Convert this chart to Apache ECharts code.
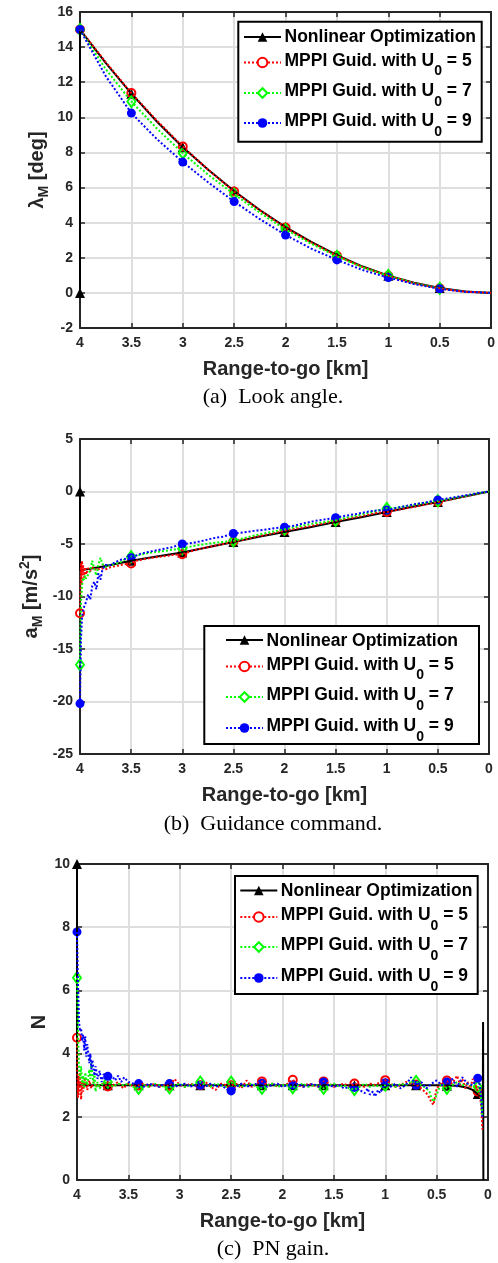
<!DOCTYPE html>
<html>
<head>
<meta charset="utf-8">
<script src="https://cdn.jsdelivr.net/npm/echarts@6/dist/echarts.min.js"></script>
<style>
html,body{margin:0;padding:0;background:#fff;}
#chart{width:498px;height:1263px;}
</style>
</head>
<body>
<div id="chart"></div>
<script>
// ---------- data ----------
const seriesNames = ['Nonlinear Optimization', 'MPPI Guid. with U0 = 5', 'MPPI Guid. with U0 = 7', 'MPPI Guid. with U0 = 9'];
const xTickValues = [4, 3.5, 3, 2.5, 2, 1.5, 1, 0.5, 0];
const captions = ['(a)  Look angle.', '(b)  Guidance command.', '(c)  PN gain.'];

// (a) Look angle [deg] vs range-to-go [km]
const aNonlin = [[4,0],[4,15],[3.75,13.1],[3.5,11.35],[3.25,9.75],[3,8.3],[2.75,7.0],[2.5,5.8],[2.25,4.72],[2,3.75],[1.75,2.9],[1.5,2.15],[1.25,1.5],[1,0.98],[0.75,0.58],[0.5,0.28],[0.25,0.08],[0,0]];
const aU5 = [[4,15],[3.75,13.15],[3.5,11.38],[3.25,9.8],[3,8.34],[2.75,7.0],[2.5,5.77],[2.25,4.7],[2,3.72],[1.75,2.88],[1.5,2.12],[1.25,1.47],[1,0.97],[0.75,0.55],[0.5,0.26],[0.25,0.07],[0,0]];
const aU7 = [[4,15],[3.75,12.75],[3.5,10.9],[3.25,9.35],[3,7.96],[2.75,6.72],[2.5,5.62],[2.25,4.57],[2,3.6],[1.75,2.8],[1.5,2.08],[1.25,1.45],[1,0.97],[0.75,0.55],[0.5,0.26],[0.25,0.07],[0,0]];
const aU9 = [[4,15],[3.75,12.35],[3.5,10.24],[3.25,8.75],[3,7.45],[2.75,6.28],[2.5,5.2],[2.25,4.2],[2,3.3],[1.75,2.52],[1.5,1.88],[1.25,1.3],[1,0.87],[0.75,0.5],[0.5,0.23],[0.25,0.06],[0,0]];
const aNonlinMk = [[4,0],[3.5,11.35],[3,8.3],[2.5,5.8],[2,3.75],[1.5,2.15],[1,0.98],[0.5,0.28]];
const aU5Mk = [[4,15],[3.5,11.38],[3,8.34],[2.5,5.77],[2,3.72],[1.5,2.12],[1,0.97],[0.5,0.26]];
const aU7Mk = [[4,15],[3.5,10.9],[3,7.96],[2.5,5.62],[2,3.6],[1.5,2.08],[1,1.0],[0.5,0.26]];
const aU9Mk = [[4,15],[3.5,10.24],[3,7.45],[2.5,5.2],[2,3.3],[1.5,1.88],[1,0.87],[0.5,0.23]];

// (b) Guidance command [m/s^2]
const bNonlin = [[4,0],[4,-7.5],[3.9,-7.35],[3.75,-7.1],[3.5,-6.6],[3.25,-6.2],[3,-5.8],[2.75,-5.3],[2.5,-4.8],[2.25,-4.3],[2,-3.85],[1.75,-3.4],[1.5,-2.9],[1.25,-2.45],[1,-1.95],[0.75,-1.45],[0.5,-1.0],[0.25,-0.5],[0,0]];
const bU5 = [[4,-11.6],[3.995,-9.5],[3.99,-6.8],[3.985,-8.8],[3.98,-6.6],[3.975,-8.0],[3.97,-7.0],[3.96,-8.2],[3.95,-7.2],[3.94,-7.9],[3.92,-7.3],[3.9,-7.6],[3.87,-7.2],[3.84,-7.5],[3.8,-7.3],[3.75,-7.4],[3.7,-7.2],[3.65,-7.1],[3.6,-7.0],[3.55,-6.9],[3.5,-6.85],[3.45,-6.6],[3.4,-6.5],[3.3,-6.3],[3.2,-6.2],[3.1,-6.05],[3,-5.97],[2.9,-5.65],[2.8,-5.4],[2.7,-5.2],[2.6,-5.0],[2.5,-4.77],[2.4,-4.6],[2.3,-4.35],[2.2,-4.15],[2.1,-3.95],[2,-3.72],[1.9,-3.55],[1.75,-3.3],[1.6,-3.0],[1.5,-2.8],[1.4,-2.6],[1.25,-2.35],[1.1,-2.05],[1,-1.95],[0.9,-1.75],[0.75,-1.5],[0.6,-1.2],[0.5,-1.0],[0.4,-0.8],[0.25,-0.5],[0.1,-0.2],[0,0]];
const bU7 = [[4,-16.5],[3.995,-13],[3.99,-10.5],[3.98,-9.0],[3.97,-8.2],[3.96,-8.4],[3.95,-8.0],[3.94,-8.3],[3.92,-7.9],[3.9,-7.5],[3.88,-6.6],[3.86,-7.4],[3.84,-8.0],[3.82,-7.0],[3.8,-6.3],[3.78,-6.9],[3.75,-7.2],[3.7,-7.0],[3.65,-6.9],[3.6,-6.7],[3.55,-6.4],[3.5,-6.2],[3.4,-6.0],[3.3,-5.8],[3.2,-5.7],[3.1,-5.55],[3,-5.45],[2.9,-5.2],[2.8,-5.05],[2.7,-4.9],[2.6,-4.8],[2.5,-4.7],[2.4,-4.45],[2.3,-4.2],[2.2,-4.0],[2.1,-3.8],[2,-3.6],[1.9,-3.4],[1.75,-3.1],[1.6,-2.9],[1.5,-2.75],[1.4,-2.5],[1.25,-2.2],[1.1,-1.85],[1,-1.6],[0.9,-1.55],[0.75,-1.3],[0.6,-1.05],[0.5,-0.88],[0.4,-0.72],[0.25,-0.45],[0.1,-0.18],[0,0]];
const bU9 = [[4,-20.2],[3.995,-17],[3.99,-14],[3.98,-12],[3.97,-11.4],[3.96,-11],[3.94,-10.5],[3.92,-9.8],[3.9,-10.3],[3.88,-9.0],[3.86,-8.6],[3.84,-9.3],[3.82,-7.8],[3.8,-8.4],[3.78,-7.4],[3.75,-7.0],[3.7,-7.0],[3.65,-6.7],[3.6,-6.5],[3.5,-6.3],[3.4,-5.9],[3.3,-5.7],[3.2,-5.5],[3.1,-5.3],[3,-5.0],[2.9,-4.9],[2.8,-4.7],[2.7,-4.45],[2.6,-4.3],[2.5,-4.0],[2.4,-3.9],[2.3,-3.75],[2.2,-3.65],[2.1,-3.5],[2,-3.4],[1.9,-3.25],[1.8,-3.0],[1.7,-2.8],[1.6,-2.65],[1.5,-2.5],[1.4,-2.3],[1.3,-2.15],[1.2,-1.95],[1.1,-1.8],[1,-1.76],[0.9,-1.55],[0.75,-1.25],[0.6,-1.0],[0.5,-0.8],[0.4,-0.65],[0.25,-0.4],[0.1,-0.15],[0,0]];
const bNonlinMk = [[4,0],[3.5,-6.6],[3,-5.8],[2.5,-4.8],[2,-3.85],[1.5,-2.9],[1,-1.95],[0.5,-1.0]];
const bU5Mk = [[4,-11.6],[3.5,-6.85],[3,-5.97],[2.5,-4.77],[2,-3.72],[1.5,-2.8],[1,-1.95],[0.5,-1.0]];
const bU7Mk = [[4,-16.5],[3.5,-6.2],[3,-5.45],[2.5,-4.7],[2,-3.6],[1.5,-2.75],[1,-1.6],[0.5,-0.88]];
const bU9Mk = [[4,-20.2],[3.5,-6.3],[3,-5.0],[2.5,-4.0],[2,-3.4],[1.5,-2.5],[1,-1.76],[0.5,-0.8]];

// (c) PN gain N
const cNonlin = [[4,10],[4,3.0],[3.5,3.0],[3,3.0],[2.5,3.0],[2,3.0],[1.5,3.0],[1,3.0],[0.5,3.0],[0.3,2.98],[0.2,2.92],[0.15,2.85],[0.1,2.72],[0.07,2.65],[0.05,2.6],[0.048,5.0],[0.045,0]];
const cU5 = [[4,4.5],[3.995,3.2],[3.99,2.6],[3.985,3.3],[3.98,2.7],[3.97,3.4],[3.96,2.55],[3.95,3.1],[3.94,2.8],[3.92,3.25],[3.9,2.85],[3.88,3.15],[3.86,2.9],[3.84,3.1],[3.8,2.95],[3.75,3.05],[3.7,2.96],[3.65,3.0],[3.6,3.1],[3.55,2.9],[3.5,3.05],[3.45,2.95],[3.4,3.0],[3.35,3.05],[3.3,2.95],[3.25,3.05],[3.2,2.95],[3.15,3.0],[3.1,2.98],[3.05,3.2],[3.0,3.0],[2.95,2.95],[2.9,3.05],[2.85,3.0],[2.8,3.0],[2.75,3.1],[2.7,2.95],[2.65,2.85],[2.6,3.05],[2.55,3.0],[2.5,3.0],[2.45,3.05],[2.4,2.9],[2.35,3.15],[2.3,2.95],[2.25,3.05],[2.2,3.12],[2.15,3.0],[2.1,3.05],[2.05,2.95],[2.0,3.0],[1.95,3.05],[1.9,3.17],[1.85,3.0],[1.8,2.95],[1.75,3.05],[1.7,3.0],[1.65,2.95],[1.6,3.12],[1.55,3.05],[1.5,2.95],[1.45,3.0],[1.4,3.05],[1.35,2.95],[1.3,3.05],[1.25,3.0],[1.2,2.95],[1.15,3.05],[1.1,3.0],[1.05,3.1],[1.0,3.16],[0.95,3.05],[0.9,2.95],[0.85,3.0],[0.8,3.1],[0.75,3.05],[0.7,3.02],[0.65,2.9],[0.6,2.75],[0.57,2.6],[0.55,2.45],[0.53,2.38],[0.5,2.9],[0.47,3.0],[0.45,3.1],[0.42,2.95],[0.4,3.15],[0.35,3.05],[0.3,3.3],[0.27,3.0],[0.25,3.2],[0.22,2.9],[0.2,3.1],[0.17,2.9],[0.15,3.2],[0.12,3.0],[0.1,2.8],[0.08,2.7],[0.065,2.3],[0.055,1.6]];
const cU7 = [[4,6.4],[3.995,5.5],[3.99,4.6],[3.985,4.0],[3.98,3.5],[3.97,3.2],[3.96,3.6],[3.95,3.0],[3.94,3.3],[3.93,2.9],[3.92,3.4],[3.9,3.0],[3.88,3.5],[3.87,3.2],[3.86,3.7],[3.85,3.3],[3.84,3.05],[3.83,3.4],[3.82,2.8],[3.8,3.1],[3.78,2.9],[3.75,3.05],[3.7,3.1],[3.65,2.95],[3.6,3.05],[3.55,3.0],[3.5,3.05],[3.45,2.95],[3.4,2.9],[3.35,3.0],[3.3,2.95],[3.25,3.05],[3.2,3.0],[3.15,2.95],[3.1,2.92],[3.05,3.0],[3.0,3.05],[2.95,2.95],[2.9,3.0],[2.85,3.05],[2.8,3.1],[2.75,3.0],[2.7,2.95],[2.65,3.05],[2.6,3.0],[2.55,2.95],[2.5,3.1],[2.45,3.0],[2.4,2.95],[2.35,3.0],[2.3,3.05],[2.25,2.95],[2.2,2.9],[2.15,3.0],[2.1,3.05],[2.05,2.95],[2.0,3.0],[1.95,3.0],[1.9,2.92],[1.85,3.0],[1.8,3.05],[1.75,2.95],[1.7,3.0],[1.65,3.0],[1.6,2.9],[1.55,3.0],[1.5,3.05],[1.45,2.95],[1.4,3.0],[1.35,2.9],[1.3,2.86],[1.25,2.95],[1.2,3.05],[1.15,2.95],[1.1,3.0],[1.05,2.95],[1.0,3.0],[0.95,3.05],[0.9,2.95],[0.85,3.05],[0.8,3.0],[0.75,3.1],[0.7,3.12],[0.65,3.0],[0.6,2.9],[0.57,2.8],[0.55,2.6],[0.53,2.48],[0.5,2.7],[0.47,2.95],[0.45,3.05],[0.4,2.9],[0.35,3.0],[0.3,3.1],[0.25,3.0],[0.2,3.05],[0.15,2.95],[0.1,2.95],[0.08,2.9],[0.065,2.5],[0.055,2.0]];
const cU9 = [[4,7.85],[3.995,6.9],[3.99,6.2],[3.985,5.6],[3.98,5.0],[3.97,4.7],[3.96,4.8],[3.95,4.4],[3.94,4.6],[3.93,4.1],[3.92,4.55],[3.91,3.9],[3.9,4.3],[3.88,3.7],[3.87,4.0],[3.86,3.5],[3.85,3.8],[3.83,3.3],[3.82,3.6],[3.8,3.2],[3.78,3.45],[3.76,3.1],[3.74,3.35],[3.7,3.28],[3.66,3.3],[3.63,3.15],[3.6,3.3],[3.57,3.1],[3.54,3.25],[3.5,3.1],[3.45,3.05],[3.4,3.05],[3.35,2.95],[3.3,3.05],[3.25,3.0],[3.2,2.95],[3.15,3.05],[3.1,3.05],[3.05,2.95],[3.0,3.0],[2.95,3.05],[2.9,2.95],[2.85,3.0],[2.8,3.0],[2.75,2.95],[2.7,3.05],[2.65,2.95],[2.6,3.0],[2.55,2.9],[2.5,2.82],[2.45,2.95],[2.4,3.05],[2.35,2.95],[2.3,3.0],[2.25,3.05],[2.2,3.06],[2.15,2.95],[2.1,3.0],[2.05,3.05],[2.0,2.95],[1.95,3.0],[1.9,3.01],[1.85,3.05],[1.8,2.95],[1.75,3.0],[1.7,3.05],[1.65,2.95],[1.6,3.1],[1.55,3.0],[1.5,2.95],[1.45,3.0],[1.4,2.9],[1.35,2.95],[1.3,2.93],[1.25,2.85],[1.2,2.75],[1.17,2.9],[1.15,2.7],[1.12,2.8],[1.1,2.64],[1.07,2.85],[1.05,2.75],[1.0,3.08],[0.95,2.95],[0.9,3.05],[0.85,2.9],[0.8,3.0],[0.75,3.25],[0.7,3.0],[0.65,3.1],[0.6,2.9],[0.55,3.05],[0.5,3.15],[0.45,3.0],[0.4,3.1],[0.35,3.2],[0.3,2.95],[0.25,3.25],[0.2,3.05],[0.15,3.0],[0.1,3.22],[0.08,3.0],[0.065,2.6],[0.055,2.0]];
const cNonlinMk = [[4,10],[3.7,3],[3.4,3],[3.1,3],[2.8,3],[2.5,3],[2.2,3],[1.9,3],[1.6,3],[1.3,3],[1,3],[0.7,3],[0.4,2.98],[0.1,2.72]];
const cU5Mk = [[4,4.5],[3.7,2.96],[3.4,3.0],[3.1,2.98],[2.8,3.0],[2.5,3.0],[2.2,3.12],[1.9,3.17],[1.6,3.12],[1.3,3.05],[1,3.16],[0.7,3.02],[0.4,3.15],[0.1,2.8]];
const cU7Mk = [[4,6.4],[3.7,3.1],[3.4,2.9],[3.1,2.92],[2.8,3.1],[2.5,3.1],[2.2,2.9],[1.9,2.92],[1.6,2.9],[1.3,2.86],[1,3.0],[0.7,3.12],[0.4,2.9],[0.1,2.95]];
const cU9Mk = [[4,7.85],[3.7,3.28],[3.4,3.05],[3.1,3.05],[2.8,3.0],[2.5,2.82],[2.2,3.06],[1.9,3.01],[1.6,3.1],[1.3,2.93],[1,3.08],[0.7,3.0],[0.4,3.1],[0.1,3.22]];

// ---------- styling / layout ----------
const FONT = '"Liberation Sans", Arial, sans-serif';
const SERIF = '"Liberation Serif", "Times New Roman", serif';
const AX = '#262626';
const colors = ['#000000', '#ff0000', '#00ff00', '#0000ff'];

const grids = [
  {left: 80, top: 12, width: 412, height: 316},
  {left: 80, top: 439, width: 409, height: 315},
  {left: 77, top: 864, width: 411, height: 316}
];
const yRanges = [[-2, 16, 2], [-25, 5, 5], [0, 10, 2]];
const yNames = ['{t|λ}{s|M}{t| [deg]}', '{t|a}{s|M}{t| [m/s}{p|2}{t|]}', '{t|N}'];
const yNameGaps = [29, 35, 28];
// legend frame boxes [x, y, w, h] and row layout
const legendBoxes = [[238.3, 21.7, 243.4, 120], [204.3, 626, 274.7, 118], [235, 876, 242.7, 118]];
const legendLefts = [243, 225, 239.3];
const legendMainY = [[37, 61, 91.5, 121.5], [641, 665, 695.5, 726.5], [891, 915.5, 945.5, 976.5]];
const legendIconY = [[36.5, 62, 92.5, 122.5], [639.5, 666, 696.5, 727.5], [890, 916.5, 946.5, 977.5]];
const SUB_DY = 10.5;
const captionPos = [[273, 397], [273, 824], [273, 1249]];

const lines = [[aNonlin, aU5, aU7, aU9], [bNonlin, bU5, bU7, bU9], [cNonlin, cU5, cU7, cU9]];
const marks = [[aNonlinMk, aU5Mk, aU7Mk, aU9Mk], [bNonlinMk, bU5Mk, bU7Mk, bU9Mk], [cNonlinMk, cU5Mk, cU7Mk, cU9Mk]];

const legendSymbols = ['triangle', 'emptyCircle', 'emptyDiamond', 'circle'];

const MAIN_FONT = 'bold 17.5px "Liberation Sans", Arial, sans-serif';
const SUB_FONT = 'bold 14px "Liberation Sans", Arial, sans-serif';
const measureCtx = document.createElement('canvas').getContext('2d');
function textWidth(text, font) { measureCtx.font = font; return measureCtx.measureText(text).width; }

const xAxis = [], yAxis = [], series = [], legend = [], graphic = [];
const tickLabel = {color: AX, fontSize: 14, fontWeight: 'bold', fontFamily: FONT};
const axisLineStyle = {show: true, onZero: false, lineStyle: {color: AX, width: 2}};
const tickStyle = {show: true, inside: true, length: 5, lineStyle: {color: AX, width: 1.5}};
const splitStyle = {show: true, lineStyle: {color: '#dedede', width: 2}};
const nameStyle = {
  color: AX, fontSize: 20, fontWeight: 'bold', fontFamily: FONT,
  rich: {
    t: {fontSize: 20, fontWeight: 'bold', fontFamily: FONT, color: AX},
    s: {fontSize: 14, fontWeight: 'bold', fontFamily: FONT, color: AX, padding: [14, 0, 0, 0]},
    p: {fontSize: 14, fontWeight: 'bold', fontFamily: FONT, color: AX, padding: [0, 0, 12, 0]}
  }
};

function legendTextGraphics(name, x, yMain) {
  const out = [];
  const idx = name.indexOf('U0');
  const mk = (text, font, xx, yy) => ({
    type: 'text', z: 7, silent: true, x: xx, y: yy,
    style: {text: text, font: font, fill: '#000', align: 'left', verticalAlign: 'middle',
      textAlign: 'left', textVerticalAlign: 'middle'}
  });
  if (idx < 0) { out.push(mk(name, MAIN_FONT, x, yMain)); return out; }
  const before = name.slice(0, idx + 1), sub = '0', after = name.slice(idx + 2);
  const w1 = textWidth(before, MAIN_FONT), w2 = textWidth(sub, SUB_FONT);
  out.push(mk(before, MAIN_FONT, x, yMain));
  out.push(mk(sub, SUB_FONT, x + w1, yMain + SUB_DY));
  out.push(mk(after, MAIN_FONT, x + w1 + w2, yMain));
  return out;
}

grids.forEach((g, i) => {
  const [ymin, ymax, yint] = yRanges[i];
  xAxis.push({gridIndex: i, type: 'value', min: 0, max: 4, interval: 0.5, inverse: true, position: 'bottom',
    axisLine: axisLineStyle, axisTick: tickStyle, splitLine: splitStyle,
    axisLabel: Object.assign({margin: 8}, tickLabel),
    name: 'Range-to-go [km]', nameLocation: 'middle', nameGap: 31, nameMoveOverlap: false,
    nameTextStyle: nameStyle});
  xAxis.push({gridIndex: i, type: 'value', min: 0, max: 4, interval: 0.5, inverse: true, position: 'top',
    axisLine: axisLineStyle, axisTick: tickStyle, splitLine: {show: false}, axisLabel: {show: false}});
  yAxis.push({gridIndex: i, type: 'value', min: ymin, max: ymax, interval: yint, position: 'left',
    axisLine: axisLineStyle, axisTick: tickStyle, splitLine: splitStyle,
    axisLabel: Object.assign({margin: 7}, tickLabel),
    name: yNames[i], nameLocation: 'middle', nameGap: yNameGaps[i], nameMoveOverlap: false,
    nameTextStyle: nameStyle});
  yAxis.push({gridIndex: i, type: 'value', min: ymin, max: ymax, interval: yint, position: 'right',
    axisLine: axisLineStyle, axisTick: tickStyle, splitLine: {show: false}, axisLabel: {show: false}});

  const bx = legendBoxes[i];
  graphic.push({
    type: 'rect', z: 5, silent: true,
    shape: {x: bx[0], y: bx[1], width: bx[2], height: bx[3]},
    style: {fill: '#fff', stroke: '#000', lineWidth: 2}
  });

  for (let k = 0; k < 4; k++) {
    series.push({
      name: seriesNames[k], type: 'line', xAxisIndex: 2 * i, yAxisIndex: 2 * i,
      data: lines[i][k], showSymbol: false, symbol: legendSymbols[k], symbolSize: 9,
      clip: false, animation: false, silent: true,
      itemStyle: {color: colors[k]},
      lineStyle: {color: colors[k], width: 2, type: k === 0 ? 'solid' : 'dotted'}
    });
    const mk = {type: 'scatter', xAxisIndex: 2 * i, yAxisIndex: 2 * i, data: marks[i][k],
      animation: false, silent: true, clip: false};
    if (k === 0) { mk.symbol = 'triangle'; mk.symbolSize = 10; mk.itemStyle = {color: '#000', opacity: 1}; }
    if (k === 1) { mk.symbol = 'circle'; mk.symbolSize = 8; mk.itemStyle = {color: 'rgba(0,0,0,0)', borderColor: colors[1], borderWidth: 2, opacity: 1}; }
    if (k === 2) { mk.symbol = 'diamond'; mk.symbolSize = [8, 11]; mk.itemStyle = {color: 'rgba(0,0,0,0)', borderColor: colors[2], borderWidth: 2, opacity: 1}; }
    if (k === 3) { mk.symbol = 'circle'; mk.symbolSize = 9; mk.itemStyle = {color: colors[3], opacity: 1}; }
    series.push(mk);

    // legend icon (line + marker) for this row; its label is drawn as text next to it
    legend.push({
      left: legendLefts[i], top: legendIconY[i][k] - 5.5, padding: 0,
      orient: 'vertical', align: 'left', itemWidth: 37, itemHeight: 12,
      selectedMode: false, z: 6,
      data: [seriesNames[k]],
      formatter: function () { return ''; }
    });
    legendTextGraphics(seriesNames[k], legendLefts[i] + 41.5, legendMainY[i][k]).forEach(t => graphic.push(t));
  }

  graphic.push({
    type: 'text', x: captionPos[i][0], y: captionPos[i][1], silent: true,
    style: {text: captions[i], font: '22px ' + SERIF, fill: '#000',
      align: 'center', verticalAlign: 'middle', textAlign: 'center', textVerticalAlign: 'middle'}
  });
});

const chart = echarts.init(document.getElementById('chart'), null, {renderer: 'canvas'});
chart.setOption({
  animation: false,
  backgroundColor: '#fff',
  grid: grids,
  xAxis: xAxis,
  yAxis: yAxis,
  legend: legend,
  graphic: graphic,
  series: series
});
</script>
</body>
</html>
